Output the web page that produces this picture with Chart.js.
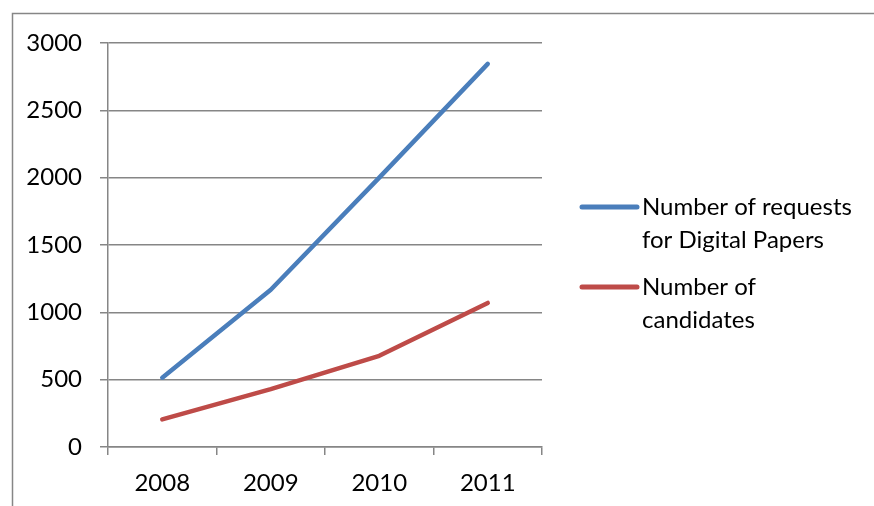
<!DOCTYPE html>
<html>
<head>
<meta charset="utf-8">
<script src="https://cdn.jsdelivr.net/npm/chart.js@4"></script>
<style>
  html, body { margin: 0; padding: 0; background: #fff; overflow: hidden; }
  #wrap { width: 874px; height: 506px; position: relative; }
  canvas { display: block; }
</style>
</head>
<body>
<div id="wrap"><canvas id="c"></canvas></div>
<script>
"use strict";

// ── Data ──────────────────────────────────────────────────────────────
const years      = ['2008', '2009', '2010', '2011'];
const requests   = [515, 1168, 2000, 2845];
const candidates = [205, 430, 677, 1070];
const seriesNames = [
  ['Number of requests', 'for Digital Papers'],
  ['Number of', 'candidates']
];
const yTicks = [0, 500, 1000, 1500, 2000, 2500, 3000];

const BLUE = '#4a7ebb';
const RED  = '#be4b48';
const GRID = '#868686';
const FONT = 'Lato, "Open Sans", sans-serif';

// ── Frame + legend drawn by hand (multi-line labels, Excel look) ─────
const framePlugin = {
  id: 'frame',
  beforeDraw(chart) {
    const { ctx, width, height } = chart;
    ctx.save();
    ctx.strokeStyle = GRID;
    ctx.lineWidth = 1.5;
    // only top and left edges of the chart frame are inside the picture
    ctx.beginPath();
    ctx.moveTo(12.5, height);
    ctx.lineTo(12.5, 13.5);
    ctx.lineTo(width, 13.5);
    ctx.stroke();
    ctx.restore();
  },
  afterDraw(chart) {
    const { ctx, chartArea } = chart;
    const x0 = chartArea.right + 40, x1 = x0 + 55, tx = x1 + 5;
    const rows = [207, 287];
    ctx.save();
    chart.data.datasets.forEach((ds, i) => {
      const y = rows[i];
      ctx.strokeStyle = ds.borderColor;
      ctx.lineWidth = 5;
      ctx.lineCap = 'round';
      ctx.beginPath(); ctx.moveTo(x0, y); ctx.lineTo(x1, y); ctx.stroke();
      ctx.fillStyle = '#000';
      ctx.font = '24px ' + FONT;
      ctx.textBaseline = 'middle';
      ds.label.forEach((line, j) => ctx.fillText(line, tx, y + j * 33));
    });
    ctx.restore();
  }
};

new Chart(document.getElementById('c'), {
  type: 'line',
  data: {
    labels: years,
    datasets: [
      { label: seriesNames[0], data: requests,   borderColor: BLUE },
      { label: seriesNames[1], data: candidates, borderColor: RED }
    ]
  },
  options: {
    responsive: true,
    maintainAspectRatio: false,
    animation: false,
    elements: {
      line: { borderWidth: 4.5, borderCapStyle: 'round', borderJoinStyle: 'round', tension: 0 },
      point: { radius: 0, hoverRadius: 0 }
    },
    layout: { padding: { left: 0, top: 43, right: 332, bottom: 0 } },
    plugins: { legend: { display: false }, tooltip: { enabled: false } },
    scales: {
      x: {
        offset: true,
        afterFit(s) { s.height = 59; },
        grid: { offset: true, drawOnChartArea: false, drawTicks: true, tickLength: 8, color: GRID, lineWidth: 1.5 },
        border: { display: true, color: GRID, width: 1.5 },
        ticks: { color: '#000', font: { family: FONT, size: 24 }, padding: 14, maxRotation: 0 }
      },
      y: {
        min: 0, max: 3000,
        afterFit(s) { s.width = 108; },
        afterBuildTicks(s) { s.ticks = yTicks.map(v => ({ value: v })); },
        grid: { color: GRID, lineWidth: 1.5, drawTicks: true, tickLength: 8 },
        border: { display: true, color: GRID, width: 1.5 },
        ticks: { color: '#000', font: { family: FONT, size: 24 }, padding: 18, callback: v => String(v) }
      }
    }
  },
  plugins: [framePlugin]
});
</script>
</body>
</html>
